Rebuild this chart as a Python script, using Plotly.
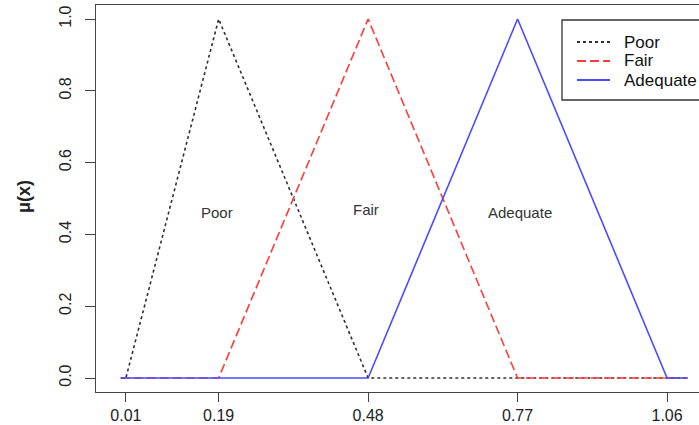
import plotly.graph_objects as go

# Membership function breakpoints (x) and membership degrees (y)
x_poor = [0.0, 0.01, 0.19, 0.48, 1.10]
y_poor = [0, 0, 1, 0, 0]
x_fair = [0.0, 0.19, 0.48, 0.77, 1.10]
y_fair = [0, 0, 1, 0, 0]
x_adequate = [0.0, 0.48, 0.77, 1.06, 1.10]
y_adequate = [0, 0, 1, 0, 0]

series_names = ["Poor", "Fair", "Adequate"]
series_colors = ["#303030", "#ff3a3a", "#4a4aff"]
series_dash = ["dot", "9px,4px", "solid"]

x_ticks = [0.01, 0.19, 0.48, 0.77, 1.06]
x_tick_labels = ["0.01", "0.19", "0.48", "0.77", "1.06"]
y_ticks = [0.0, 0.2, 0.4, 0.6, 0.8, 1.0]
y_tick_labels = ["0.0", "0.2", "0.4", "0.6", "0.8", "1.0"]

label_x = [0.187, 0.476, 0.775]
label_y = [0.462, 0.468, 0.460]

xs = [x_poor, x_fair, x_adequate]
ys = [y_poor, y_fair, y_adequate]

fig = go.Figure()
for name, x, y, c, d in zip(series_names, xs, ys, series_colors, series_dash):
    fig.add_trace(go.Scatter(x=x, y=y, mode="lines", name=name, showlegend=False,
                             line=dict(color=c, dash=d, width=1.6)))

for name, lx, ly in zip(series_names, label_x, label_y):
    fig.add_annotation(x=lx, y=ly, text=name, showarrow=False,
                       font=dict(family="Arial, Liberation Sans", size=15, color="#333333"))

# y-axis title
fig.add_annotation(xref="paper", yref="paper", x=(24 - 96) / 603, y=(392 - 197) / 387,
                   xanchor="center", yanchor="middle",
                   text="<b>μ(x)</b>", textangle=-90, showarrow=False,
                   font=dict(family="Arial, Liberation Sans", size=18, color="#222222"))

# legend box (drawn in pixel-derived paper coords; right edge clipped like the reference)
def px_x(p):
    return (p - 96) / 603

def px_y(p):
    return (392 - p) / 387

shapes = [dict(type="rect", xref="paper", yref="paper",
               x0=px_x(562), x1=px_x(740), y0=px_y(100), y1=px_y(20),
               line=dict(color="#333333", width=1.3), fillcolor="white", layer="above")]
row_y = [42, 61, 80]
for ry, c, d in zip(row_y, series_colors, series_dash):
    shapes.append(dict(type="line", xref="paper", yref="paper",
                       x0=px_x(577), x1=px_x(610), y0=px_y(ry), y1=px_y(ry),
                       line=dict(color=c, dash=d, width=2), layer="above"))
for ry, name in zip(row_y, series_names):
    fig.add_annotation(xref="paper", yref="paper", x=px_x(622), y=px_y(ry),
                       xanchor="left", yanchor="middle", text=name, showarrow=False,
                       font=dict(family="Arial, Liberation Sans", size=17, color="#111111"))

fig.update_layout(
    width=699, height=425,
    margin=dict(l=96, r=0, t=5, b=33, autoexpand=False),
    paper_bgcolor="white", plot_bgcolor="white",
    font=dict(family="Arial, Liberation Sans", size=15, color="#222222"),
    showlegend=False,
    shapes=shapes,
    xaxis=dict(range=[-0.048, 1.122], tickvals=x_ticks, ticktext=x_tick_labels,
               showgrid=False, zeroline=False, showline=True, mirror=True,
               linecolor="#444444", linewidth=1.2, ticks="outside", ticklen=9,
               tickcolor="#444444", tickwidth=1.2, tickfont=dict(size=16),
               automargin=False),
    yaxis=dict(range=[-0.039, 1.039], tickvals=y_ticks, ticktext=y_tick_labels,
               showgrid=False, zeroline=False, showline=True, mirror=False,
               linecolor="#444444", linewidth=1.2, ticks="outside", ticklen=10,
               tickcolor="#444444", tickwidth=1.2, tickangle=-90,
               tickfont=dict(size=16), ticklabelstandoff=8, automargin=False),
)

fig.write_html("out.html", config={"displayModeBar": False},
               post_script="document.body.style.margin='0';document.body.style.overflow='hidden';")
